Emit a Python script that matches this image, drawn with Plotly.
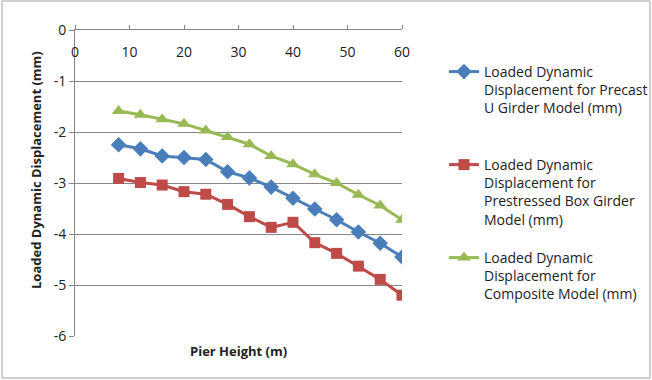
import plotly.graph_objects as go

pier_height = [8, 12, 16, 20, 24, 28, 32, 36, 40, 44, 48, 52, 56, 60]
precast_u = [-2.25, -2.33, -2.47, -2.50, -2.54, -2.78, -2.90, -3.08, -3.30, -3.51, -3.72, -3.96, -4.18, -4.45]
prestressed_box = [-2.91, -2.99, -3.04, -3.17, -3.22, -3.42, -3.66, -3.87, -3.77, -4.17, -4.38, -4.63, -4.89, -5.20]
composite = [-1.59, -1.66, -1.75, -1.84, -1.97, -2.10, -2.24, -2.47, -2.63, -2.83, -3.00, -3.23, -3.44, -3.72]

y_tick_vals = [0, -1, -2, -3, -4, -5, -6]
y_tick_text = ["0", "-1", "-2", "-3", "-4", "-5", "-6"]
x_tick_vals = [0, 10, 20, 30, 40, 50, 60]

names = [
    "Loaded Dynamic<br>Displacement for Precast<br>U Girder Model (mm)",
    "Loaded Dynamic<br>Displacement for<br>Prestressed Box Girder<br>Model (mm)",
    "Loaded Dynamic<br>Displacement for<br>Composite Model (mm)",
]
colors = ["#4A7EBB", "#BE4B48", "#98B954"]
symbols = ["diamond", "square", "triangle-up"]
sizes = [12, 11, 12]
series = [precast_u, prestressed_box, composite]
legends = ["legend", "legend2", "legend3"]

FONT = "Open Sans"

fig = go.Figure()
for s, n, c, sym, sz, lg in zip(series, names, colors, symbols, sizes, legends):
    fig.add_trace(go.Scatter(
        x=pier_height, y=s, name=n, mode="lines+markers",
        line=dict(color=c, width=3),
        marker=dict(symbol=sym, size=sz, color=c),
        legend=lg, showlegend=True,
    ))

W, H = 652, 380
ml, mr, mt, mb = 75, 250, 30, 44
pw = W - ml - mr
ph = H - mt - mb

def px_x(p):
    return (p - ml) / pw

def px_y(p):
    return (H - mb - p) / ph

leg_common = dict(font=dict(family=FONT, size=14, color="#222"), valign="top",
                  bgcolor="rgba(0,0,0,0)", xanchor="left", yanchor="top")

fig.update_layout(
    width=W, height=H,
    margin=dict(l=ml, r=mr, t=mt, b=mb, autoexpand=False),
    paper_bgcolor="white", plot_bgcolor="white",
    font=dict(family=FONT, size=14, color="#222"),
    showlegend=True,
    legend=dict(x=px_x(444), y=px_y(56), **leg_common),
    legend2=dict(x=px_x(444), y=px_y(149), **leg_common),
    legend3=dict(x=px_x(444), y=px_y(242), **leg_common),
    xaxis=dict(range=[0, 60], tickvals=x_tick_vals, side="top", showline=True, linecolor="#868686",
               ticks="outside", ticklen=4, tickcolor="#868686", ticklabelposition="inside",
               ticklabeloverflow="allow", ticklabelstandoff=17,
               showgrid=False, zeroline=False, tickfont=dict(size=14, color="#222")),
    yaxis=dict(range=[-6, 0], tickvals=y_tick_vals, ticktext=y_tick_text, showline=True,
               linecolor="#868686", ticks="outside", ticklen=5, tickcolor="#868686",
               ticklabeloverflow="allow",
               gridcolor="#868686", gridwidth=1, zeroline=False,
               tickfont=dict(size=14, color="#222")),
    annotations=[
        dict(text="<b>Pier Height (m)</b>", xref="paper", yref="paper",
             x=0.5, y=px_y(351), xanchor="center", yanchor="middle", showarrow=False,
             font=dict(family=FONT, size=13, color="#222")),
        dict(text="<b>Loaded Dynamic Displacement (mm)</b>", xref="paper", yref="paper",
             x=px_x(36), y=px_y(170), xanchor="center", yanchor="middle", showarrow=False,
             textangle=-90, font=dict(family=FONT, size=13, color="#222")),
    ],
    shapes=[dict(type="rect", xref="paper", yref="paper",
                 x0=px_x(2), x1=px_x(650), y0=px_y(378), y1=px_y(1),
                 line=dict(color="#A0A0A0", width=1))],
)

fig.write_html("out.html")
